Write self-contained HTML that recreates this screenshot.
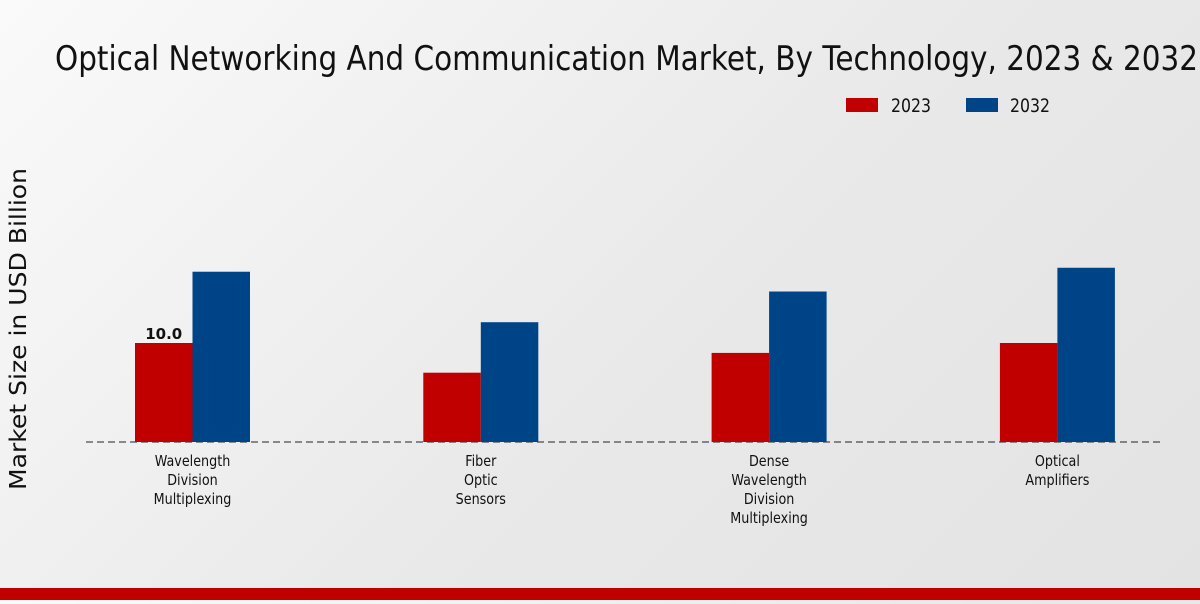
<!DOCTYPE html>
<html><head><meta charset="utf-8"><style>
html,body{margin:0;padding:0}
body{width:1200px;height:600px;overflow:hidden;background:linear-gradient(135deg,#fafafa 0%,#e9e9e9 55%,#e3e3e3 100%);font-family:"DejaVu Sans","Liberation Sans",sans-serif}
</style></head><body>
<svg id="chart" width="1200" height="600" xmlns="http://www.w3.org/2000/svg" font-family="DejaVu Sans, Liberation Sans, sans-serif">
<text x="55" y="70" font-size="34" textLength="1143" lengthAdjust="spacingAndGlyphs" fill="#111">Optical Networking And Communication Market, By Technology, 2023 &amp; 2032</text>
<g>
<rect x="846" y="98" width="32" height="14" fill="#c00000"/>
<text x="891" y="112" font-size="19" textLength="40" lengthAdjust="spacingAndGlyphs" fill="#111">2023</text>
<rect x="966" y="98" width="32" height="14" fill="#004488"/>
<text x="1010" y="112" font-size="19" textLength="40" lengthAdjust="spacingAndGlyphs" fill="#111">2032</text>
</g>
<text transform="translate(26,329) rotate(-90)" x="-161" font-size="23" textLength="322" lengthAdjust="spacingAndGlyphs" fill="#111">Market Size in USD Billion</text>
<line x1="86" y1="442" x2="1163" y2="442" stroke="#222" stroke-dasharray="7,4" stroke-width="1"/>
<g id="bars"></g>
<g id="labels"></g>
<rect x="0" y="588" width="1200" height="12" fill="#c00000"/>
</svg>
<script>
const categories=[["Wavelength","Division","Multiplexing"],["Fiber","Optic","Sensors"],["Dense","Wavelength","Division","Multiplexing"],["Optical","Amplifiers"]];
const values2023=[10.0,7.0,9.0,10.0];
const values2032=[17.2,12.1,15.2,17.6];
const ns="http://www.w3.org/2000/svg";
const baseY=442, pxPerUnit=9.9, barW=57.5;
function xCenter(i){return 192.5+i*288.3;}
function yPos(v){return baseY-v*pxPerUnit;}
const bars=document.getElementById('bars'), labels=document.getElementById('labels');
categories.forEach((c,i)=>{
  const cx=xCenter(i);
  [[values2023[i],cx-barW,'#c00000','2023'],[values2032[i],cx,'#004488','2032']].forEach(([v,x,col,yr])=>{
    const r=document.createElementNS(ns,'rect');
    r.setAttribute('x',x);r.setAttribute('y',yPos(v));r.setAttribute('width',barW);r.setAttribute('height',baseY-yPos(v));r.setAttribute('fill',col);
    
    
    bars.appendChild(r);
  });
  c.forEach((line,j)=>{
    const t=document.createElementNS(ns,'text');
    t.setAttribute('x',cx);t.setAttribute('y',466+j*19);t.setAttribute('text-anchor','middle');t.setAttribute('font-size','15');t.setAttribute('fill','#111');
    t.setAttribute('transform','translate('+cx+',0) scale(0.85,1) translate('+(-cx)+',0)');
    t.textContent=line;
    
    
    labels.appendChild(t);
  });
});
const vl=document.createElementNS(ns,'text');
vl.setAttribute('x',xCenter(0)-barW/2);vl.setAttribute('y',yPos(values2023[0])-4);vl.setAttribute('text-anchor','middle');vl.setAttribute('font-size','15');vl.setAttribute('font-weight','bold');vl.setAttribute('fill','#111');
vl.textContent=values2023[0].toFixed(1);


labels.appendChild(vl);
</script>
</body></html>
